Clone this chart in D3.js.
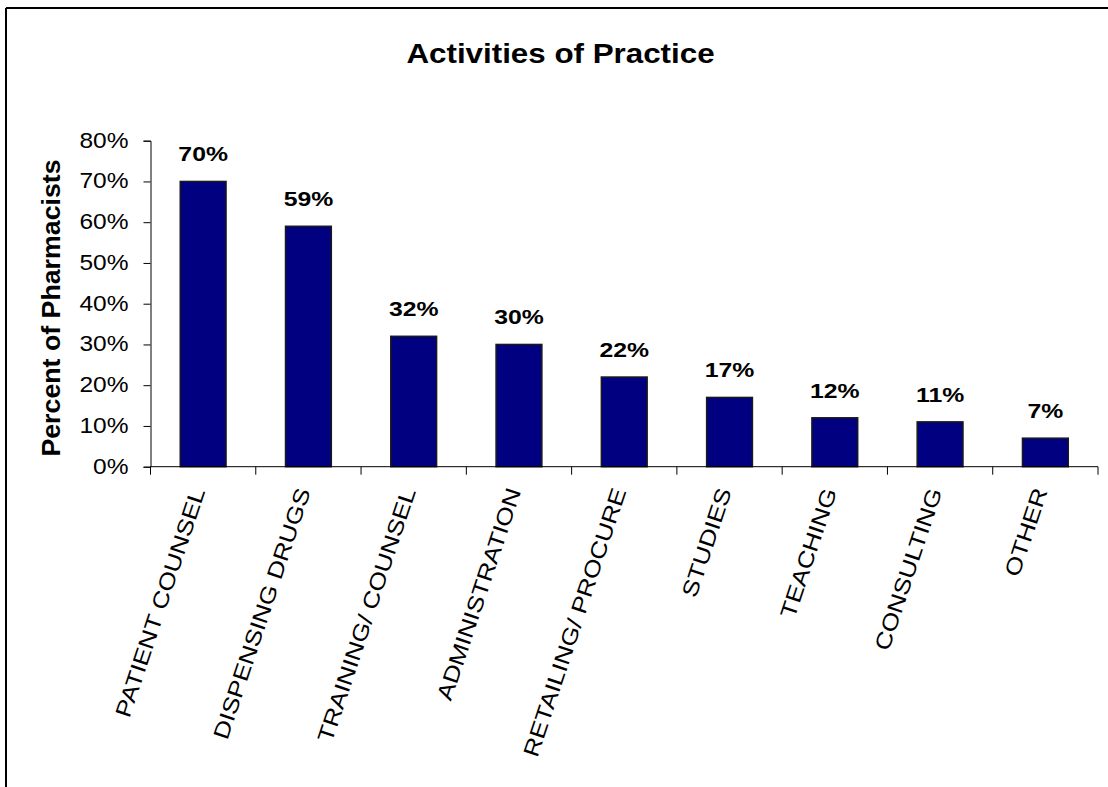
<!DOCTYPE html>
<html>
<head>
<meta charset="utf-8">
<script src="https://cdn.jsdelivr.net/npm/d3@7"></script>
<style>
  html, body { margin: 0; padding: 0; background: #fff; }
  svg { display: block; font-family: "Liberation Sans", Arial, sans-serif; }
</style>
</head>
<body>
<svg id="chart" width="1108" height="787"></svg>
<script>
// Share of pharmacists engaged in each activity (%)
const categories = ["PATIENT COUNSEL", "DISPENSING DRUGS", "TRAINING/ COUNSEL", "ADMINISTRATION",
  "RETAILING/ PROCURE", "STUDIES", "TEACHING", "CONSULTING", "OTHER"];
const percentValues = [70, 59, 32, 30, 22, 17, 12, 11, 7];
const yTickValues = [0, 10, 20, 30, 40, 50, 60, 70, 80];

const svg = d3.select("#chart");

// Frame (top and left edges)
svg.append("line").attr("x1", 6).attr("x2", 1108).attr("y1", 8).attr("y2", 8)
  .attr("stroke", "#000").attr("stroke-width", 2);
svg.append("line").attr("x1", 6).attr("x2", 6).attr("y1", 8).attr("y2", 787)
  .attr("stroke", "#000").attr("stroke-width", 2);

const plot = { left: 150.5, right: 1098, top: 140.7, bottom: 466.7 };

const x = d3.scaleBand().domain(categories).range([plot.left, plot.right])
  .paddingInner(0.565).paddingOuter(0.2825);
const y = d3.scaleLinear().domain([0, 80]).range([plot.bottom, plot.top]);

// Text is drawn with glyphs widened along the baseline
const wide = 1.14;

// Title
svg.append("text").attr("transform", `translate(560.5,63) scale(${wide},1)`)
  .attr("text-anchor", "middle")
  .attr("font-size", 27.5).attr("font-weight", "bold")
  .text("Activities of Practice");

// Y axis
const yAxis = svg.append("g").attr("transform", `translate(${plot.left},0)`)
  .call(d3.axisLeft(y).tickValues(yTickValues).tickFormat(d => d + "%").tickSize(7));
yAxis.select(".domain").attr("stroke", "#000").attr("stroke-width", 1);
yAxis.selectAll(".tick line").attr("stroke", "#000");
yAxis.selectAll(".tick text")
  .attr("x", null).attr("dy", "0.3em")
  .attr("transform", `translate(-22,0) scale(${wide},1)`)
  .attr("font-size", 21.5).attr("fill", "#000")
  .attr("font-family", "Liberation Sans, Arial, sans-serif");

svg.append("text")
  .attr("transform", `translate(60,308) rotate(-90) scale(1.07,1)`)
  .attr("text-anchor", "middle").attr("font-size", 25).attr("font-weight", "bold")
  .text("Percent of Pharmacists");

// Bars
svg.append("g").selectAll("rect").data(percentValues).join("rect")
  .attr("x", (d, i) => x(categories[i]))
  .attr("width", x.bandwidth())
  .attr("y", d => y(d))
  .attr("height", d => y(0) - y(d))
  .attr("fill", "#000080").attr("stroke", "#1a1a1a").attr("stroke-width", 1.5);

// Value labels
svg.append("g").selectAll("text").data(percentValues).join("text")
  .attr("transform", (d, i) => `translate(${x(categories[i]) + x.bandwidth() / 2},${y(d) - 20}) scale(1.18,1)`)
  .attr("text-anchor", "middle").attr("font-size", 21).attr("font-weight", "bold")
  .text(d => d + "%");

// X axis with ticks between categories
const xBoundaries = d3.range(categories.length + 1).map(i => plot.left + i * (plot.right - plot.left) / categories.length);
svg.append("line").attr("x1", plot.left).attr("x2", plot.right)
  .attr("y1", plot.bottom).attr("y2", plot.bottom).attr("stroke", "#000");
svg.append("g").selectAll("line").data(xBoundaries).join("line")
  .attr("x1", d => d).attr("x2", d => d)
  .attr("y1", plot.bottom).attr("y2", plot.bottom + 8).attr("stroke", "#000");

// Rotated category labels
svg.append("g").selectAll("text").data(categories).join("text")
  .attr("transform", d => `translate(${x(d) + x.bandwidth() / 2 - 5},${plot.bottom + 22}) rotate(-71.5) scale(1.19,1)`)
  .attr("text-anchor", "end").attr("dy", "0.35em")
  .attr("font-size", 22)
  .text(d => d);
</script>
</body>
</html>
